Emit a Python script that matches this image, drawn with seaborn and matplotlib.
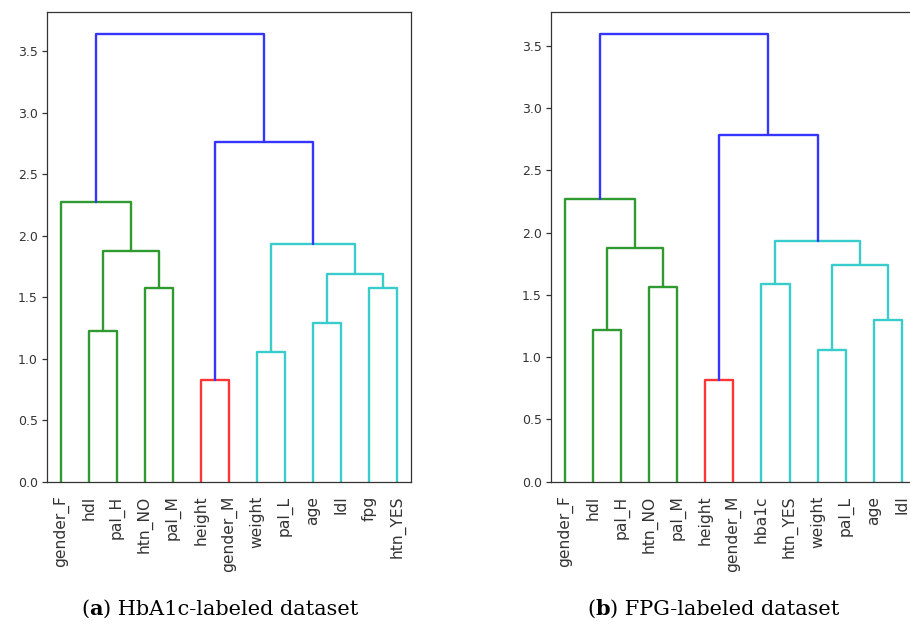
import numpy as np
import pandas as pd
import matplotlib
matplotlib.use("Agg")
import matplotlib.pyplot as plt
import seaborn as sns
from matplotlib.offsetbox import TextArea, HPacker, AnnotationBbox

# ---------------- data ----------------
labels_a = ["gender_F", "hdl", "pal_H", "htn_NO", "pal_M", "height", "gender_M",
            "weight", "pal_L", "age", "ldl", "fpg", "htn_YES"]
left_a = [1, 3, 13, 0, 5, 7, 9, 11, 19, 18, 17, 16]
right_a = [2, 4, 14, 15, 6, 8, 10, 12, 20, 21, 22, 23]
height_a = [1.222, 1.576, 1.877, 2.275, 0.826, 1.056, 1.290, 1.576, 1.685, 1.931, 2.763, 3.638]
color_a = ["g", "g", "g", "g", "r", "c", "c", "c", "c", "c", "b", "b"]

labels_b = ["gender_F", "hdl", "pal_H", "htn_NO", "pal_M", "height", "gender_M",
            "hba1c", "htn_YES", "weight", "pal_L", "age", "ldl"]
left_b = [1, 3, 13, 0, 5, 7, 9, 11, 19, 18, 17, 16]
right_b = [2, 4, 14, 15, 6, 8, 10, 12, 20, 21, 22, 23]
height_b = [1.218, 1.566, 1.874, 2.267, 0.816, 1.590, 1.055, 1.295, 1.740, 1.930, 2.783, 3.594]
color_b = ["g", "g", "g", "g", "r", "c", "c", "c", "c", "c", "b", "b"]

caption_tag = ["a", "b"]
caption_text = ["HbA1c-labeled dataset", "FPG-labeled dataset"]

palette = {"g": "#2f9a2f", "r": "#ff3535", "c": "#38cccc", "b": "#3535ff"}


def link_segments(labels, left, right, height, color):
    n = len(labels)
    xpos = {i: 5 + 10 * i for i in range(n)}
    ypos = {i: 0.0 for i in range(n)}
    rows = []
    for k, (l, r, h, c) in enumerate(zip(left, right, height, color)):
        xl, xr = xpos[l], xpos[r]
        pts = [(xl, ypos[l]), (xl, h), (xr, h), (xr, ypos[r])]
        for j, (x, y) in enumerate(pts):
            rows.append(dict(link=k, order=j, x=x, y=y, color=c))
        xpos[n + k] = (xl + xr) / 2
        ypos[n + k] = h
    return pd.DataFrame(rows)


sns.set_style("ticks", {"axes.edgecolor": "#333333", "xtick.color": "#333333",
                        "ytick.color": "#333333", "text.color": "#333333"})
plt.rcParams["font.family"] = ["DejaVu Sans"]

fig = plt.figure(figsize=(9.1, 6.25), dpi=100)
W, H = 910, 625
ax_boxes = [(46.7, 11.7, 364.4, 470.0), (551.0, 11.7, 364.8, 470.0)]
caption_x = [220, 713]

panels = [(labels_a, left_a, right_a, height_a, color_a),
          (labels_b, left_b, right_b, height_b, color_b)]

for i, (labels, left, right, height, color) in enumerate(panels):
    x0, y0, w, h = ax_boxes[i]
    ax = fig.add_axes([x0 / W, 1 - (y0 + h) / H, w / W, h / H])
    df = link_segments(labels, left, right, height, color)
    sns.lineplot(data=df, x="x", y="y", units="link", hue="color", palette=palette,
                 estimator=None, sort=False, legend=False, linewidth=1.7, ax=ax)
    n = len(labels)
    ax.set_xlim(0, 10 * n)
    ax.set_ylim(0, max(height) * 1.05)
    ax.set_xticks([5 + 10 * k for k in range(n)])
    ax.set_xticklabels(labels, rotation=90, fontsize=11.2)
    ax.tick_params(axis="x", length=0, pad=10)
    ax.set_yticks(np.arange(0, 3.51, 0.5))
    ax.set_yticklabels([f"{v:.1f}" for v in np.arange(0, 3.51, 0.5)])
    ax.tick_params(axis="y", labelsize=9, length=3.5, width=0.9, pad=3)
    ax.set_xlabel("")
    ax.set_ylabel("")
    for sp in ax.spines.values():
        sp.set_linewidth(0.9)
        sp.set_color("#333333")

    props = dict(family="DejaVu Serif", size=15, color="black")
    t1 = TextArea("(", textprops=props)
    t2 = TextArea(caption_tag[i], textprops=dict(props, weight="bold"))
    t3 = TextArea(") " + caption_text[i], textprops=props)
    box = HPacker(children=[t1, t2, t3], align="baseline", pad=0, sep=0)
    ab = AnnotationBbox(box, (caption_x[i] / W, 1 - 609 / H), xycoords="figure fraction",
                        frameon=False, box_alignment=(0.5, 0.5))
    fig.add_artist(ab)

fig.savefig("out.png", dpi=100)
